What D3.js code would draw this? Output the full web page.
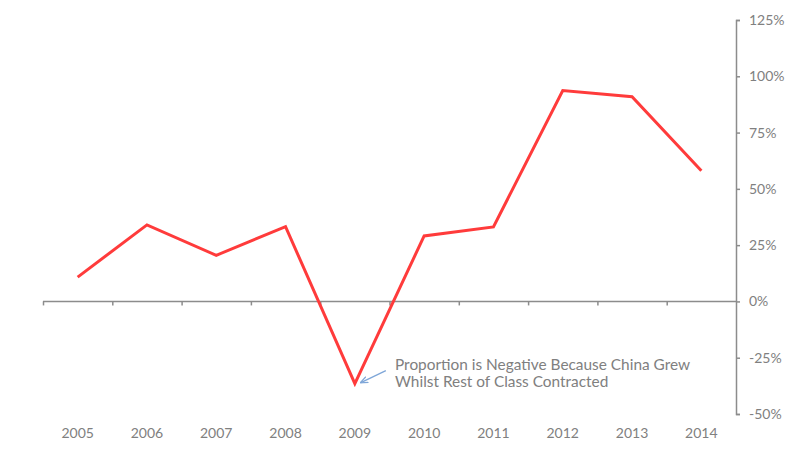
<!DOCTYPE html>
<html>
<head>
<meta charset="utf-8">
<script src="https://cdn.jsdelivr.net/npm/d3@7"></script>
<style>
  body { margin: 0; background: #fff; }
  text { font-family: Lato, "Open Sans", sans-serif; fill: #808080; }
  .axis path, .axis line { stroke: #8c8c8c; stroke-width: 1.5; }
  .line { fill: none; stroke: #ff3b3b; stroke-width: 3; stroke-linejoin: miter; }
</style>
</head>
<body>
<svg id="chart" width="800" height="459"></svg>
<script>
var years = ["2005", "2006", "2007", "2008", "2009", "2010", "2011", "2012", "2013", "2014"];
var proportion = [10.8, 34, 20.5, 33.2, -36.5, 29.1, 33.1, 93.7, 90.9, 58];
var yTicks = [-50, -25, 0, 25, 50, 75, 100, 125];
var noteLines = ["Proportion is Negative Because China Grew", "Whilst Rest of Class Contracted"];

var svg = d3.select("#chart");

var plot = {left: 43, right: 736, top: 20, bottom: 414};

var x = d3.scaleBand()
    .domain(years)
    .range([plot.left, plot.right]);

var xEdge = d3.scaleLinear()
    .domain([0, years.length])
    .range([plot.left, plot.right]);

var y = d3.scaleLinear()
    .domain([-50, 125])
    .range([plot.bottom, plot.top]);

// x axis sits on the zero line, ticks between categories
svg.append("g")
    .attr("class", "axis axis--x")
    .attr("transform", "translate(0," + y(0) + ")")
    .call(d3.axisBottom(xEdge)
      .tickValues(d3.range(0, years.length))
      .tickSize(4)
      .tickFormat(""))
  .select(".domain")
    .attr("d", "M" + plot.left + ",0H" + plot.right);

svg.append("g")
    .selectAll("text")
    .data(years)
  .enter().append("text")
    .attr("x", function(d) { return x(d) + x.bandwidth() / 2; })
    .attr("y", 438)
    .attr("text-anchor", "middle")
    .style("font-size", "14px")
    .text(function(d) { return d; });

// y axis on the right
var yAxis = svg.append("g")
    .attr("class", "axis axis--y")
    .attr("transform", "translate(" + plot.right + ",0)")
    .call(d3.axisRight(y)
      .tickValues(yTicks)
      .tickSize(4)
      .tickSizeOuter(4)
      .tickPadding(9)
      .tickFormat(function(d) { return d + "%"; }));

yAxis.selectAll("text")
    .style("font-size", "14px")
    .attr("fill", null);

var line = d3.line()
    .x(function(d, i) { return x(years[i]) + x.bandwidth() / 2; })
    .y(function(d) { return y(d); });

svg.append("path")
    .datum(proportion)
    .attr("class", "line")
    .attr("d", line);

// annotation for 2009
var defs = svg.append("defs");
defs.append("marker")
    .attr("id", "arrow")
    .attr("viewBox", "0 0 10 10")
    .attr("refX", 9)
    .attr("refY", 5)
    .attr("markerWidth", 6)
    .attr("markerHeight", 6)
    .attr("orient", "auto")
  .append("path")
    .attr("d", "M0,1L10,5L0,9")
    .attr("fill", "none")
    .attr("stroke", "#7ea6d8")
    .attr("stroke-width", 1.5);

var px = x("2009") + x.bandwidth() / 2,
    py = y(proportion[4]);

svg.append("line")
    .attr("x1", px + 31)
    .attr("y1", py - 13)
    .attr("x2", px + 6)
    .attr("y2", py - 1)
    .attr("stroke", "#7ea6d8")
    .attr("stroke-width", 1.3)
    .attr("marker-end", "url(#arrow)");

svg.append("g")
    .selectAll("text")
    .data(noteLines)
  .enter().append("text")
    .attr("x", 395)
    .attr("y", function(d, i) { return 370 + i * 16.5; })
    .style("font-size", "15.4px")
    .text(function(d) { return d; });
</script>
</body>
</html>
